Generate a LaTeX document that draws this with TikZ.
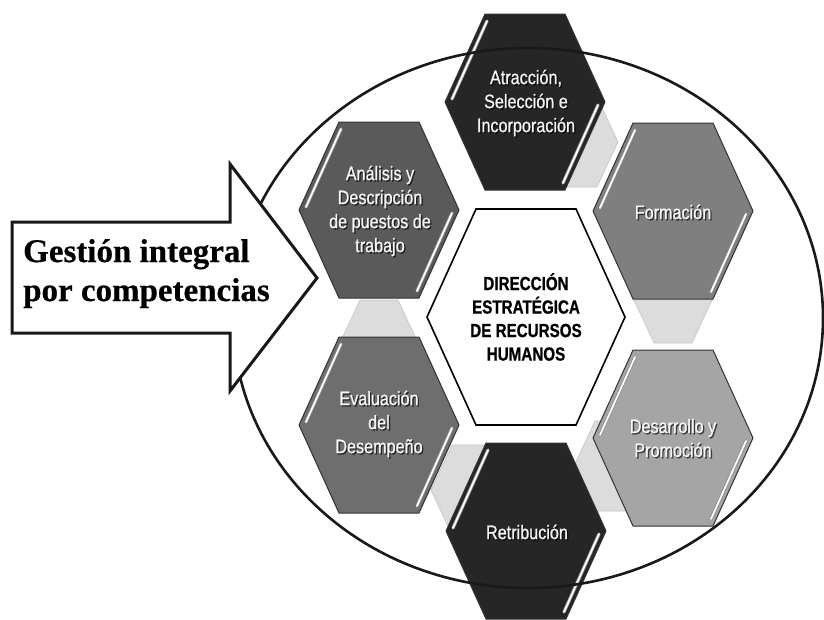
\documentclass[tikz,border=0pt]{standalone}
\usepackage{fontspec}
\newfontfamily\hexfont[FakeStretch=0.83,FakeBold=0.8]{Liberation Sans}
\newfontfamily\ctrfont[FakeStretch=0.8,FakeBold=0.8]{Liberation Sans}
\newfontfamily\arrfont[FakeBold=0.5]{Liberation Serif}
\definecolor{hexdark}{HTML}{262626}
\definecolor{hexanal}{HTML}{5A5A5A}
\definecolor{hexeval}{HTML}{6E6E6E}
\definecolor{hexform}{HTML}{7F7F7F}
\definecolor{hexdesa}{HTML}{A5A5A5}
\definecolor{connfill}{HTML}{DCDCDC}
\definecolor{connline}{HTML}{C4C4C4}
\tikzset{
  hexshape/.style={draw=black!80, line width=1pt, line join=round},
  hlbase/.style={draw=black!45, line width=3.4pt, line cap=round},
  hl/.style={draw=white, line width=1.8pt, line cap=round},
  conn/.style={fill=connfill, draw=connline, line width=0.6pt, line join=round},
  hextext/.style={font=\hexfont\fontsize{19.5}{24}\selectfont, text=black!4, align=center, inner sep=0pt},
  hexshadow/.style={font=\hexfont\fontsize{19.5}{24}\selectfont, text=black, opacity=0.6, align=center, inner sep=0pt},
  ctrtext/.style={font=\ctrfont\bfseries\fontsize{19}{23.5}\selectfont, text=black, align=center, inner sep=0pt},
  arrowbox/.style={draw=black!90, line width=3pt, fill=white, line join=miter},
  arrtext/.style={font=\arrfont\bfseries\fontsize{33}{39}\selectfont, text=black, align=left, inner sep=0pt},
  ringline/.style={draw=black!90, line width=2.6pt},
}
\newcommand\myhex[2]{%
  \begin{scope}[shift={#1}]
    \draw[hexshape, fill=#2] (-80,0) -- (-40,-88) -- (40,-88) -- (80,0) -- (40,88) -- (-40,88) -- cycle;
    \draw[hlbase] (-73,-3) -- (-38,-81);
    \draw[hlbase] (73,3) -- (38,81);
    \draw[hl] (-73,-3) -- (-38,-81);
    \draw[hl] (73,3) -- (38,81);
  \end{scope}}
\newcommand\connhex[1]{%
  \begin{scope}[shift={#1}]
    \draw[conn] (-40,0) -- (-19,-45) -- (19,-45) -- (40,0) -- (19,45) -- (-19,45) -- cycle;
  \end{scope}}
\newcommand\hexlabel[3]{%
  \node[hexshadow, xshift=1.3pt, yshift=-1.3pt] (#1s) at #2 {#3};
  \node[hextext] (#1) at #2 {#3};}
\begin{document}
\begin{tikzpicture}[x=1pt, y=-1pt]
\useasboundingbox[fill=white] (0,0) rectangle (824,619);

% light grey connectors
\connhex{(578,142)}
\connhex{(673,298)}
\connhex{(614,466)}
\connhex{(471,490)}
\connhex{(379,345)}

% outer hexagons
\myhex{(525,102)}{hexdark}
\myhex{(673,211)}{hexform}
\myhex{(673,438)}{hexdesa}
\myhex{(526,531)}{hexdark}
\myhex{(379,425)}{hexeval}
\myhex{(379,210)}{hexanal}

% centre hexagon
\begin{scope}[shift={(526,317)}]
  \draw[line width=1.6pt, draw=black, fill=white, line join=miter]
    (-99,0) -- (-50,-108) -- (50,-108) -- (99,0) -- (50,108) -- (-50,108) -- cycle;
\end{scope}

% ellipse
\draw[ringline] (528,318) ellipse [x radius=295, y radius=270];

% labels
\hexlabel{atr}{(526,103)}{Atracción,\\Selección e\\Incorporación}
\hexlabel{ana}{(380,211)}{Análisis y\\Descripción\\de puestos de\\trabajo}
\hexlabel{for}{(673,212)}{Formación}
\hexlabel{eva}{(379,424)}{Evaluación\\del\\Desempeño}
\hexlabel{des}{(673,438)}{Desarrollo y\\Promoción}
\hexlabel{ret}{(527,532)}{Retribución}

\node[ctrtext] (dir) at (526,317) {DIRECCIÓN\\ESTRATÉGICA\\DE RECURSOS\\HUMANOS};

% block arrow
\draw[arrowbox] (12,222) -- (230,222) -- (230,164) -- (317,278) -- (230,391) -- (230,333) -- (12,333) -- cycle;
\node[arrtext, anchor=base west] (gest) at (23,301) {Gestión integral\\por competencias};
\end{tikzpicture}
\end{document}
